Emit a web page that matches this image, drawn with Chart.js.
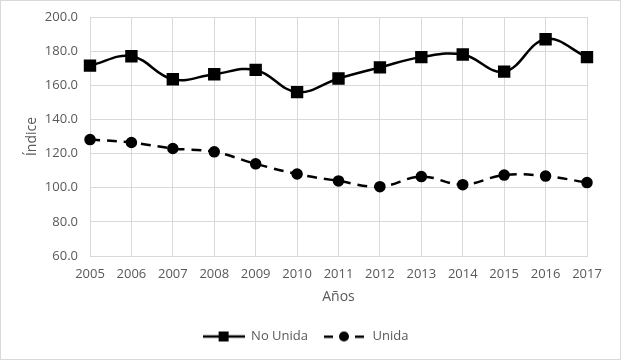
<!DOCTYPE html>
<html>
<head>
<meta charset="utf-8">
<script src="https://cdn.jsdelivr.net/npm/chart.js@4.4.1/dist/chart.umd.min.js"></script>
<style>
  body { margin: 0; background: #fff; }
  #wrap { width: 621px; height: 360px; box-sizing: border-box; border: 1px solid #d9d9d9; }
</style>
</head>
<body>
<div id="wrap"><canvas id="indiceChart" width="619" height="358"></canvas></div>
<script>
// datos
const years = ['2005','2006','2007','2008','2009','2010','2011','2012','2013','2014','2015','2016','2017'];
const noUnida = [171.5, 177.0, 163.5, 166.5, 169.0, 156.0, 164.0, 170.5, 176.5, 178.0, 168.0, 187.0, 176.5];
const unida = [128.2, 126.5, 123.0, 121.0, 114.0, 108.0, 104.0, 100.6, 106.5, 101.8, 107.4, 106.8, 103.0];

const txt = '#595959';
const grid = '#d9d9d9';
const fontFam = "'Open Sans', 'Liberation Sans', sans-serif";

// icono de leyenda: linea + marcador
function legendIcon(kind) {
    let c = document.createElement('canvas');
    c.width = 42; c.height = 12;
    let g = c.getContext('2d');
    g.strokeStyle = '#000'; g.fillStyle = '#000'; g.lineWidth = 2.5;
    if (kind === 'rect') {
        g.beginPath(); g.moveTo(0, 6); g.lineTo(42, 6); g.stroke();
        g.fillRect(16, 1, 10, 10);
    } else {
        g.fillRect(0, 5, 9, 2.5);
        g.fillRect(31, 5, 9, 2.5);
        g.beginPath(); g.arc(20, 6, 5, 0, Math.PI * 2); g.fill();
    }
    return c;
}

let ctx = document.getElementById('indiceChart').getContext('2d');
new Chart(ctx, {
    type: 'line',
    data: {
        labels: years,
        datasets: [{
            label: 'No Unida',
            data: noUnida,
            borderColor: '#000',
            backgroundColor: '#000',
            borderWidth: 2.5,
            tension: 0.4,
            pointStyle: 'rect',
            pointRadius: 7,
            pointHoverRadius: 7
        }, {
            label: 'Unida',
            data: unida,
            borderColor: '#000',
            backgroundColor: '#000',
            borderWidth: 2.5,
            borderDash: [10, 7],
            tension: 0.4,
            pointStyle: 'circle',
            pointRadius: 4.5,
            pointHoverRadius: 4.5
        }]
    },
    options: {
        responsive: false,
        animation: false,
        layout: { autoPadding: false, padding: { top: 16, right: 33, left: 23, bottom: 6 } },
        scales: {
            x: {
                offset: false,
                grid: { color: grid, lineWidth: 1, drawTicks: false },
                border: { color: grid },
                ticks: { color: txt, font: { family: fontFam, size: 13 }, padding: 10, maxRotation: 0 },
                title: { display: true, text: 'Años', color: txt, font: { family: fontFam, size: 14 }, padding: { top: 2, bottom: 9 } },
                afterFit: function (s) { s.height = 58; }
            },
            y: {
                min: 60, max: 200,
                grid: { color: grid, lineWidth: 1, drawTicks: false },
                border: { color: grid },
                ticks: {
                    stepSize: 20, color: txt, padding: 12,
                    font: { family: fontFam, size: 13 },
                    callback: function (v) { return v.toFixed(1); }
                },
                title: { display: true, text: 'Índice', color: txt, font: { family: fontFam, size: 14 }, padding: { top: 0, bottom: 4 } },
                afterFit: function (s) {
                    s.width = 66;
                    s.paddingTop = 8;
                    s.paddingBottom = 8;
                }
            }
        },
        plugins: {
            tooltip: { enabled: false },
            legend: {
                position: 'bottom',
                labels: {
                    color: txt,
                    font: { family: fontFam, size: 13 },
                    usePointStyle: true,
                    pointStyleWidth: 42,
                    padding: 16,
                    generateLabels: function (chart) {
                        return chart.data.datasets.map(function (ds, i) {
                            return {
                                text: ds.label,
                                fontColor: txt,
                                pointStyle: legendIcon(i === 0 ? 'rect' : 'circle'),
                                datasetIndex: i,
                                hidden: false,
                                lineWidth: 0
                            };
                        });
                    }
                }
            }
        }
    }
});
</script>
</body>
</html>
